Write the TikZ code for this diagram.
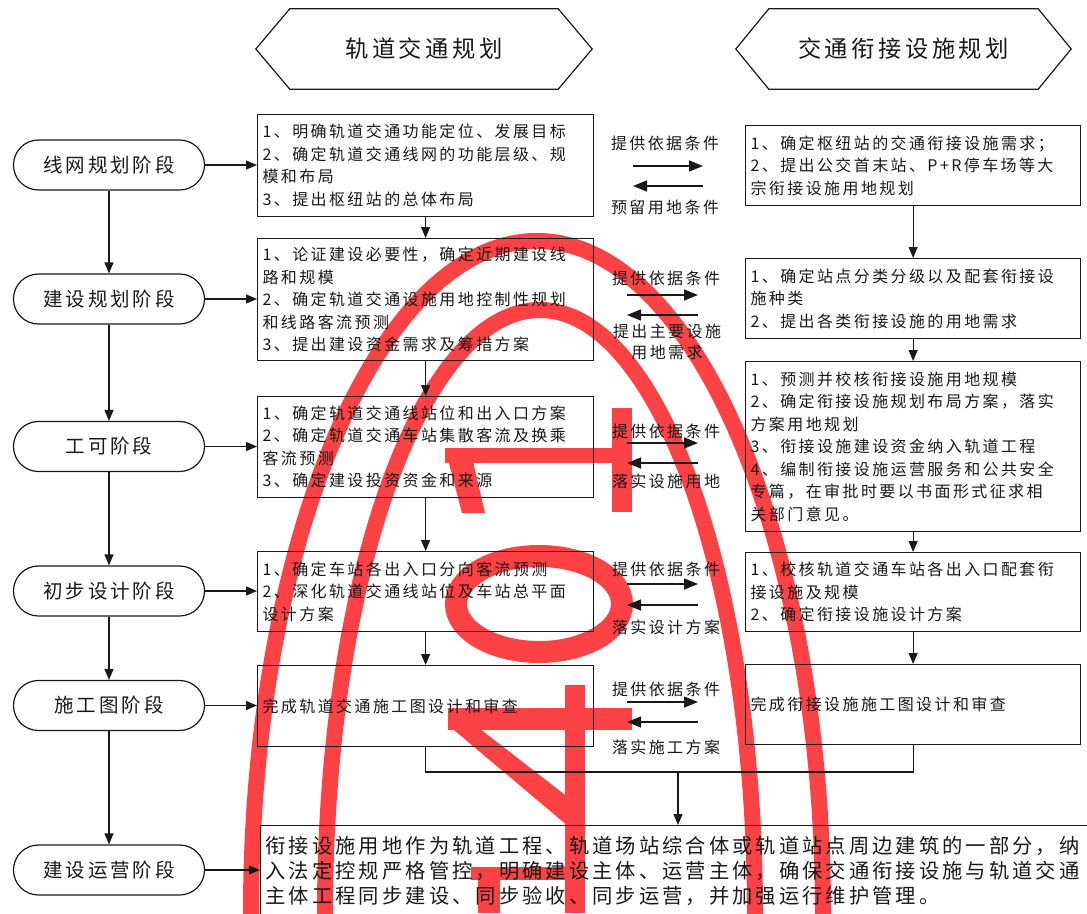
\documentclass[tikz,border=0pt]{standalone}
\usepackage{fontspec}
\newfontfamily\cjk[LetterSpace=15]{Noto Sans CJK SC}
\usetikzlibrary{arrows.meta}
\definecolor{redmark}{RGB}{252,66,68}
\definecolor{ink}{RGB}{25,25,25}
\newcommand\bxfont{\cjk\fontsize{16pt}{22.5pt}\selectfont}
\newcommand\finfont{\cjk\fontsize{20.3pt}{25pt}\selectfont}
\newcommand\stgfont{\cjk\fontsize{19.5pt}{22pt}\selectfont}
\newcommand\ttlfont{\cjk\fontsize{23.3pt}{26pt}\selectfont}
\newcommand\lblfont{\cjk\fontsize{16pt}{21pt}\selectfont}
\tikzset{
  box/.style={draw=ink, line width=1.2pt, anchor=north west, inner xsep=5pt, inner ysep=0pt, align=left, font=\bxfont, text=ink},
  stage/.style={draw=ink, line width=1.2pt, rounded corners=24.9pt, minimum width=191pt, minimum height=50pt, font=\stgfont, text=ink},
  hexa/.style={minimum width=336pt, minimum height=80pt, font=\ttlfont, text=ink},
  hexline/.style={draw=ink, line width=1.2pt},
  arr/.style={draw=ink, line width=1.2pt, -{Triangle[length=11pt,width=9pt]}},
  xarr/.style={draw=ink, line width=1.5pt, -{Triangle[length=14pt,width=11pt]}},
  conn/.style={draw=ink, line width=1.2pt},
  lbl/.style={font=\lblfont, inner sep=0pt, align=center, text=ink},
  markband/.style={draw=redmark, line width=16pt},
}
\begin{document}
\begin{tikzpicture}[x=1pt,y=-1pt]
\useasboundingbox (0,0) rectangle (1087,913);
\clip (0,0) rectangle (1087,913);

% red overlay marks
\draw[markband] (537,913) ellipse [x radius=286pt, y radius=672pt];
\draw[markband] (540,913) ellipse [x radius=215pt, y radius=603pt];
\draw[draw=redmark, line width=22pt] (539,604) ellipse [x radius=83pt, y radius=48pt];
\fill[redmark] (445,448) rectangle (632,463);
\fill[redmark] (612,408) rectangle (632,512);
\fill[redmark] (445,448) -- (470,448) -- (485,513) -- (462,513) -- cycle;
\fill[redmark] (448,708) rectangle (632,730);
\fill[redmark] (565,685) rectangle (585,913);
\fill[redmark] (448,725) -- (475,725) -- (582,808) -- (568,826) -- cycle;
\fill[redmark] (471,867) rectangle (575,880);
\fill[redmark] (478,880) rectangle (500,913);

% hexagon headers
\node[hexa] (h1) at (424,49) {轨道交通规划};
\draw[hexline] ([xshift=34pt]h1.north west) -- ([xshift=-34pt]h1.north east) -- (h1.east)
  -- ([xshift=-34pt]h1.south east) -- ([xshift=34pt]h1.south west) -- (h1.west) -- cycle;
\node[hexa, minimum width=335pt] (h2) at (903.5,49) {交通衔接设施规划};
\draw[hexline] ([xshift=33pt]h2.north west) -- ([xshift=-33pt]h2.north east) -- (h2.east)
  -- ([xshift=-33pt]h2.south east) -- ([xshift=33pt]h2.south west) -- (h2.west) -- cycle;

% stage nodes
\node[stage] (s1) at (109,165) {线网规划阶段};
\node[stage] (s2) at (109,299) {建设规划阶段};
\node[stage] (s3) at (109,446.5) {工可阶段};
\node[stage] (s4) at (109,591) {初步设计阶段};
\node[stage] (s5) at (109,705.5) {施工图阶段};
\node[stage] (s6) at (109,870) {建设运营阶段};

% rail transit boxes
\node[box, minimum width=336pt, text width=326pt, minimum height=102pt] (m1) at (257,114)
 {1、明确轨道交通功能定位、发展目标\\2、确定轨道交通线网的功能层级、规\\模和布局\\3、提出枢纽站的总体布局};
\node[box, minimum width=336pt, text width=326pt, minimum height=122pt] (m2) at (257,238)
 {1、论证建设必要性，确定近期建设线\\路和规模\\2、确定轨道交通设施用地控制性规划\\和线路客流预测\\3、提出建设资金需求及筹措方案};
\node[box, minimum width=336pt, text width=326pt, minimum height=101pt] (m3) at (257,396)
 {1、确定轨道交通线站位和出入口方案\\2、确定轨道交通车站集散客流及换乘\\客流预测\\3、确定建设投资资金和来源};
\node[box, minimum width=336pt, text width=326pt, minimum height=80pt] (m4) at (257,551)
 {1、确定车站各出入口分向客流预测\\2、深化轨道交通线站位及车站总平面\\设计方案};
\node[box, minimum width=336pt, text width=326pt, minimum height=81pt] (m5) at (257,665)
 {完成轨道交通施工图设计和审查};

% connection facility boxes
\node[box, minimum width=335pt, text width=325pt, minimum height=80pt] (r1) at (745,125)
 {1、确定枢纽站的交通衔接设施需求；\\2、提出公交首末站、P+R停车场等大\\宗衔接设施用地规划};
\node[box, minimum width=335pt, text width=325pt, minimum height=80pt] (r2) at (745,258)
 {1、确定站点分类分级以及配套衔接设\\施种类\\2、提出各类衔接设施的用地需求};
\node[box, minimum width=335pt, text width=325pt, minimum height=170pt] (r3) at (745,361)
 {1、预测并校核衔接设施用地规模\\2、确定衔接设施规划布局方案，落实\\方案用地规划\\3、衔接设施建设资金纳入轨道工程\\4、编制衔接设施运营服务和公共安全\\专篇，在审批时要以书面形式征求相\\关部门意见。};
\node[box, minimum width=335pt, text width=325pt, minimum height=79pt] (r4) at (745,552)
 {1、校核轨道交通车站各出入口配套衔\\接设施及规模\\2、确定衔接设施设计方案};
\node[box, minimum width=335pt, text width=325pt, minimum height=80pt] (r5) at (745,664)
 {完成衔接设施施工图设计和审查};

% final box
\node[box, font=\finfont, minimum width=850pt, text width=840pt, minimum height=90pt] (fin) at (260,825)
 {衔接设施用地作为轨道工程、轨道场站综合体或轨道站点周边建筑的一部分，纳\\入法定控规严格管控，明确建设主体、运营主体，确保交通衔接设施与轨道交通\\主体工程同步建设、同步验收、同步运营，并加强运行维护管理。};

% stage chain
\draw[arr] (s1) -- (s2);
\draw[arr] (s2) -- (s3);
\draw[arr] (s3) -- (s4);
\draw[arr] (s4) -- (s5);
\draw[arr] (s5) -- (s6);

% stage to boxes
\draw[arr] (s1.east) -- (s1.east -| m1.west);
\draw[arr] (s2.east) -- (s2.east -| m2.west);
\draw[arr] (s3.east) -- (s3.east -| m3.west);
\draw[arr] (s4.east) -- (s4.east -| m4.west);
\draw[arr] (s5.east) -- (s5.east -| m5.west);
\draw[arr] (s6.east) -- (s6.east -| fin.west);

% column chains
\draw[arr] (m1) -- (m2);
\draw[arr] (m2) -- (m3);
\draw[arr] (m3) -- (m4);
\draw[arr] (m4) -- (m5);
\draw[arr] (r1) -- (r2);
\draw[arr] (r2) -- (r3);
\draw[arr] (r3) -- (r4);
\draw[arr] (r4) -- (r5);

% merge to final
\coordinate (j) at (678,772);
\draw[conn] (m5.south) |- (j) -| (r5.south);
\draw[arr] (j) -- (j |- fin.north);

% exchange arrows and labels
\coordinate (a1s) at (633,166); \coordinate (a1e) at (703,166);
\coordinate (b1s) at (703,186); \coordinate (b1e) at (633,186);
\coordinate (a2s) at (627,295); \coordinate (a2e) at (698,295);
\coordinate (b2s) at (698,315); \coordinate (b2e) at (627,315);
\coordinate (a3s) at (627,443); \coordinate (a3e) at (698,443);
\coordinate (b3s) at (698,463); \coordinate (b3e) at (627,463);
\coordinate (a4s) at (627,584); \coordinate (a4e) at (698,584);
\coordinate (b4s) at (698,605); \coordinate (b4e) at (627,605);
\coordinate (a5s) at (627,702); \coordinate (a5e) at (698,702);
\coordinate (b5s) at (698,722); \coordinate (b5e) at (627,722);
\foreach \i in {1,...,5}{
  \draw[xarr] (a\i s) -- (a\i e);
  \draw[xarr] (b\i s) -- (b\i e);
}
\node[lbl] (t1) at (665,143) {提供依据条件};
\node[lbl] (u1) at (665,207) {预留用地条件};
\node[lbl] (t2) at (666,278) {提供依据条件};
\node[lbl] (u2) at (667,342) {提出主要设施\\用地需求};
\node[lbl] (t3) at (666,431) {提供依据条件};
\node[lbl] (u3) at (666,481) {落实设施用地};
\node[lbl] (t4) at (666,569) {提供依据条件};
\node[lbl] (u4) at (666,627) {落实设计方案};
\node[lbl] (t5) at (666,689) {提供依据条件};
\node[lbl] (u5) at (666,747) {落实施工方案};
\end{tikzpicture}
\end{document}
